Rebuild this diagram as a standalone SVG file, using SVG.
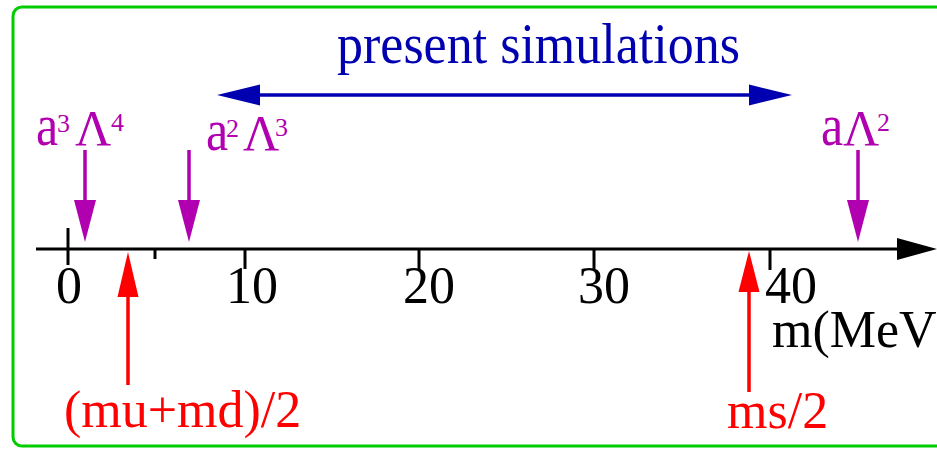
<svg xmlns="http://www.w3.org/2000/svg" width="937" height="449" viewBox="0 0 937 449">
<style>
text{font-family:"Liberation Serif","Times New Roman",serif}
.big{font-size:52px}
.lab{font-size:50px;fill:#b000b0}
.sup{font-size:26px;fill:#b000b0}
.tick{stroke:#000;stroke-width:3;fill:none}
.pur{stroke:#b000b0;stroke-width:3.5;fill:none}
.red{stroke:#ff0000;stroke-width:3.5;fill:none}
</style>
<rect x="13" y="7" width="940" height="439" rx="9" fill="none" stroke="#00cc00" stroke-width="3"/>
<g id="connectors">
  <line x1="36" y1="249" x2="900" y2="249" class="tick"/>
  <polygon points="897,238 937,249 897,260" fill="#000"/>
  <line x1="68" y1="228" x2="68" y2="265" class="tick"/>
  <line x1="155" y1="249" x2="155" y2="259" class="tick"/>
  <line x1="245" y1="249" x2="245" y2="269" class="tick"/>
  <line x1="419" y1="249" x2="419" y2="269" class="tick"/>
  <line x1="594" y1="249" x2="594" y2="269" class="tick"/>
  <line x1="770" y1="249" x2="770" y2="270" class="tick"/>
  <line x1="256" y1="95" x2="752" y2="95" stroke="#0000b0" stroke-width="3.5"/>
  <polygon points="217,95 260,84.5 260,105.5" fill="#0000b0"/>
  <polygon points="792,95 749,84.5 749,105.5" fill="#0000b0"/>
  <line x1="85" y1="150" x2="85" y2="204" class="pur"/>
  <polygon points="74,200 96,200 85,242" fill="#b000b0"/>
  <line x1="189" y1="150" x2="189" y2="204" class="pur"/>
  <polygon points="178,200 200,200 189,242" fill="#b000b0"/>
  <line x1="858" y1="150" x2="858" y2="204" class="pur"/>
  <polygon points="847,200 869,200 858,242" fill="#b000b0"/>
  <line x1="128" y1="294" x2="128" y2="385" class="red"/>
  <polygon points="117.5,297 138.5,297 128,252" fill="#ff0000"/>
  <line x1="749" y1="289" x2="749" y2="392" class="red"/>
  <polygon points="738.5,292 759.5,292 749,251" fill="#ff0000"/>
</g>
<g id="axis-labels" class="big">
  <text x="56" y="303">0</text>
  <text x="226" y="303">10</text>
  <text x="403" y="303">20</text>
  <text x="578" y="303">30</text>
  <text x="765" y="303">40</text>
  <text x="772" y="347">m(MeV</text>
</g>
<g id="present-simulations">
  <text transform="matrix(1,0,0,1.1,337,63)" class="big" fill="#0000b0">present simulations</text>
</g>
<g id="a3L4">
  <text transform="matrix(1,0,0,1.17,36,145)" class="lab">a</text>
  <text x="57" y="132" class="sup">3</text>
  <text x="75" y="145" class="lab">Λ</text>
  <text x="111" y="131" class="sup">4</text>
</g>
<g id="a2L3">
  <text transform="matrix(1,0,0,1.17,206,150)" class="lab">a</text>
  <text x="226" y="137" class="sup">2</text>
  <text x="243" y="150" class="lab">Λ</text>
  <text x="275" y="136" class="sup">3</text>
</g>
<g id="aL2">
  <text transform="matrix(1,0,0,1.17,821,145)" class="lab">a</text>
  <text x="843" y="145" class="lab">Λ</text>
  <text x="877" y="131" class="sup">2</text>
</g>
<g id="mumd">
  <text x="64" y="427" class="big" fill="#ff0000">(mu+md)/2</text>
</g>
<g id="ms">
  <text x="727" y="428" class="big" fill="#ff0000">ms/2</text>
</g>
</svg>
